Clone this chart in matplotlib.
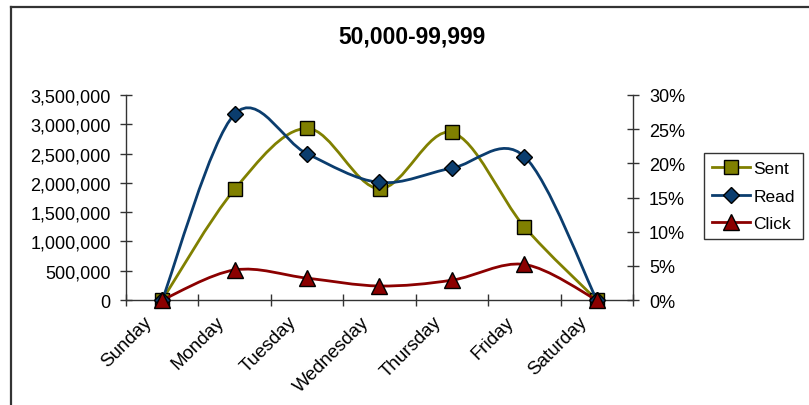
import numpy as np
import matplotlib
matplotlib.use("Agg")
import matplotlib.pyplot as plt
from matplotlib.path import Path
from matplotlib.patches import PathPatch
from matplotlib.lines import Line2D
from matplotlib.ticker import FuncFormatter, FixedLocator
from matplotlib.transforms import ScaledTranslation

plt.rcParams['font.family'] = ['Liberation Sans', 'DejaVu Sans']

title = "50,000-99,999"
days = ["Sunday", "Monday", "Tuesday", "Wednesday", "Thursday", "Friday", "Saturday"]
sent = [0, 1890000, 2930000, 1900000, 2860000, 1250000, 0]
read = [0.0, 0.272, 0.214, 0.172, 0.193, 0.210, 0.0]
click = [0.0, 0.044, 0.032, 0.0205, 0.029, 0.052, 0.0]

left_ticks = [0, 500000, 1000000, 1500000, 2000000, 2500000, 3000000, 3500000]
right_ticks = [0, 0.05, 0.10, 0.15, 0.20, 0.25, 0.30]

c_sent = "#808000"
c_read = "#0B3D6E"
c_click = "#8B0000"

W, H = 809, 406
fig = plt.figure(figsize=(W / 100, H / 100), dpi=100)

def fx(px):
    return px / W

def fy(py):
    return 1 - py / H

ax_l, ax_r, ax_t, ax_b = 126, 633, 96, 301
ax = fig.add_axes([fx(ax_l), fy(ax_b), fx(ax_r - ax_l), (ax_b - ax_t) / H])
ax2 = ax.twinx()


def smooth_path(xs, ys):
    pts = np.column_stack([xs, ys]).astype(float)
    n = len(pts)
    verts = [pts[0]]
    codes = [Path.MOVETO]
    for i in range(n - 1):
        p0 = pts[max(i - 1, 0)]
        p1 = pts[i]
        p2 = pts[i + 1]
        p3 = pts[min(i + 2, n - 1)]
        c1 = p1 + (p2 - p0) / 6.0
        c2 = p2 - (p3 - p1) / 6.0
        verts += [c1, c2, p2]
        codes += [Path.CURVE4] * 3
    return Path(verts, codes)


x = np.arange(len(days))
lw = 2.0

series = [
    (ax, sent, c_sent, 's', 9.5, "Sent"),
    (ax2, read, c_read, 'D', 8.0, "Read"),
    (ax2, click, c_click, '^', 11.0, "Click"),
]
handles = []
for a, vals, col, mk, ms, lab in series:
    p = PathPatch(smooth_path(x, vals), facecolor='none', edgecolor=col, lw=lw,
                  transform=a.transData, zorder=3, capstyle='round', joinstyle='round')
    a.add_patch(p)
    a.plot(x, vals, ls='none', marker=mk, ms=ms, mfc=col, mec='black', mew=1.0,
           zorder=4, clip_on=False)
    handles.append(Line2D([], [], color=col, lw=lw, marker=mk, ms=ms, mfc=col,
                          mec='black', mew=1.0))

ax.set_xlim(-0.5, len(days) - 0.5)
ax.set_ylim(0, 3500000)
ax2.set_ylim(0, 0.30)

ax.set_yticks(left_ticks)
ax.yaxis.set_major_formatter(FuncFormatter(lambda v, p: f"{int(v):,}"))
ax2.set_yticks(right_ticks)
ax2.yaxis.set_major_formatter(FuncFormatter(lambda v, p: f"{v*100:.0f}%"))

# x: tick marks at boundaries, labels at centers
ax.xaxis.set_major_locator(FixedLocator(np.arange(len(days) + 1) - 0.5))
ax.xaxis.set_major_formatter(FuncFormatter(lambda v, p: ""))
ax.xaxis.set_minor_locator(FixedLocator(x))
ax.set_xticklabels(days, minor=True, rotation=45, ha='right', va='top',
                   rotation_mode='anchor', fontsize=13.5)
ax.tick_params(axis='x', which='minor', length=0, pad=6)
ax.tick_params(axis='x', which='major', direction='inout', length=9, width=1, color='#333333')
offset = ScaledTranslation(-0.19, -0.045, fig.dpi_scale_trans)
for lbl in ax.get_xticklabels(minor=True):
    lbl.set_transform(lbl.get_transform() + offset)

ax.tick_params(axis='y', direction='inout', length=9, width=1, labelsize=13, color='#333333', pad=6.5)
ax2.tick_params(axis='y', direction='inout', length=9, width=1, labelsize=13, color='#333333', pad=7)

for a in (ax, ax2):
    a.spines['top'].set_visible(False)
    a.set_facecolor('none')
ax.spines['right'].set_visible(False)
ax2.spines['left'].set_visible(False)
ax2.spines['bottom'].set_visible(False)
for s in (ax.spines['left'], ax.spines['bottom'], ax2.spines['right']):
    s.set_color('#333333')
    s.set_linewidth(1.0)

fig.text(fx(412), fy(37), title, ha='center', va='center', fontsize=16.5, fontweight='bold')

leg = fig.legend(handles, ["Sent", "Read", "Click"], loc='upper left',
                 bbox_to_anchor=(fx(704), fy(154)), fontsize=12.5, frameon=True,
                 fancybox=False, handlelength=2.2, handletextpad=0.2,
                 labelspacing=0.72, borderpad=0.45, borderaxespad=0)
leg.get_frame().set_edgecolor('black')
leg.get_frame().set_linewidth(1.0)

# outer chart border (left and top visible)
fig.add_artist(Line2D([fx(11), fx(11)], [fy(8), 0], color='#333333', lw=1.6,
                      transform=fig.transFigure))
fig.add_artist(Line2D([fx(11), 1], [fy(8), fy(8)], color='#333333', lw=1.6,
                      transform=fig.transFigure))

fig.savefig("out.png", dpi=100)
